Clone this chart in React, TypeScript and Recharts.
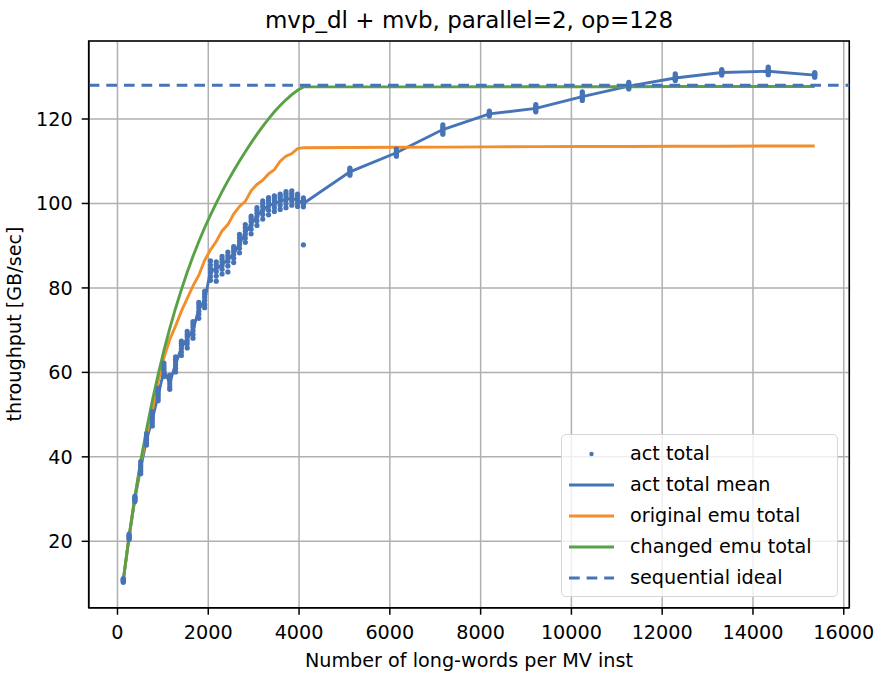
import React from "react";
import {
  CartesianGrid,
  ComposedChart,
  Line,
  ReferenceArea,
  ReferenceLine,
  Scatter,
  XAxis,
  YAxis,
} from "recharts";

// long-words per MV inst
const xs = [
  128, 256, 384, 512, 640, 768, 896, 1024, 1152, 1280, 1408, 1536, 1664, 1792, 1920, 2048,
  2176, 2304, 2432, 2560, 2688, 2816, 2944, 3072, 3200, 3328, 3456, 3584, 3712, 3840, 3968, 4096,
  5120, 6144, 7168, 8192, 9216, 10240, 11264, 12288, 13312, 14336, 15360,
];

// raw measurements, several runs per size
const actSamples = [
  [10.3, 10.5, 10.7, 10.9, 11.0, 11.2],
  [20.4, 20.7, 21.0, 21.2, 21.4, 21.7],
  [29.4, 29.7, 30.0, 30.2, 30.4, 30.7],
  [36.0, 36.6, 37.2, 37.8, 38.3, 38.9],
  [42.8, 43.4, 44.0, 44.5, 45.0, 45.5],
  [47.3, 48.0, 48.7, 49.4, 50.0, 50.7],
  [53.3, 53.9, 54.5, 55.0, 55.6, 56.2],
  [59.0, 59.7, 60.4, 61.0, 61.6, 62.2],
  [56.0, 56.6, 57.3, 58.0, 58.6, 59.3],
  [60.1, 61.0, 61.8, 62.5, 63.1, 63.7],
  [64.0, 64.8, 65.6, 66.3, 66.9, 67.4],
  [65.8, 66.8, 67.6, 68.4, 69.0, 69.7],
  [68.1, 69.0, 69.9, 70.7, 71.4, 72.0],
  [72.8, 73.7, 74.5, 75.3, 76.0, 76.6],
  [75.3, 76.1, 77.0, 77.8, 78.5, 79.2],
  [81.8, 82.7, 83.6, 84.5, 85.4, 86.4],
  [81.6, 82.8, 83.9, 84.8, 85.5, 86.2],
  [83.3, 84.4, 85.3, 86.1, 86.8, 87.5],
  [83.8, 85.2, 86.3, 87.1, 87.8, 88.5],
  [86.0, 87.0, 87.9, 88.6, 89.2, 89.8],
  [88.3, 89.4, 90.3, 91.1, 91.9, 92.7],
  [90.8, 91.8, 92.7, 93.5, 94.3, 95.0],
  [92.8, 93.9, 94.9, 95.7, 96.4, 97.0],
  [94.8, 95.9, 96.9, 97.7, 98.4, 99.0],
  [96.3, 97.4, 98.4, 99.2, 99.9, 100.6],
  [97.3, 98.4, 99.4, 100.2, 100.8, 101.4],
  [98.1, 99.0, 99.9, 100.7, 101.3, 101.8],
  [98.6, 99.6, 100.5, 101.2, 101.7, 102.2],
  [99.0, 100.0, 100.9, 101.6, 102.2, 102.8],
  [99.6, 100.5, 101.2, 101.8, 102.4, 103.0],
  [99.3, 100.0, 100.7, 101.2, 101.7, 102.2],
  [90.2, 99.2, 99.8, 100.3, 100.8, 101.3],
  [106.7, 107.0, 107.4, 107.7, 108.0, 108.4],
  [111.2, 111.5, 111.9, 112.2, 112.5, 112.9],
  [116.4, 116.8, 117.3, 117.7, 118.1, 118.6],
  [120.7, 121.0, 121.2, 121.4, 121.6, 121.9],
  [121.7, 122.0, 122.4, 122.7, 123.0, 123.4],
  [124.4, 124.8, 125.2, 125.6, 126.0, 126.4],
  [127.1, 127.4, 127.7, 128.0, 128.3, 128.7],
  [129.1, 129.4, 129.7, 130.0, 130.3, 130.7],
  [130.4, 130.7, 131.0, 131.2, 131.4, 131.7],
  [130.5, 130.9, 131.3, 131.6, 131.9, 132.3],
  [129.9, 130.2, 130.4, 130.6, 130.8, 131.0],
];

const actMean = [
  10.8, 21.0, 30.0, 37.5, 44.0, 49.0, 54.5, 60.5, 57.5, 62.0, 65.8, 68.0, 70.0, 75.0, 77.0, 84.0,
  84.5, 85.5, 86.7, 88.0, 90.5, 93.0, 95.0, 97.0, 98.5, 99.5, 100.0, 100.5, 101.0, 101.2, 100.8, 100.0,
  107.5, 112.0, 117.5, 121.2, 122.5, 125.3, 127.8, 129.7, 131.0, 131.3, 130.4,
];

const origEmu = [
  10.8, 21.3, 30.5, 38.5, 45.0, 51.0, 57.8, 63.5, 67.8, 71.0, 74.5, 77.5, 80.5, 83.0, 86.5, 89.0,
  91.0, 93.5, 95.0, 97.5, 99.3, 100.5, 103.0, 104.5, 105.5, 107.0, 108.0, 110.0, 111.2, 111.8, 113.0, 113.2,
  113.25, 113.3, 113.35, 113.4, 113.45, 113.5, 113.5, 113.55, 113.55, 113.6, 113.6,
];

const changedEmu = [
  10.8, 21.2, 30.6, 39.0, 46.5, 53.3, 59.5, 65.2, 70.4, 75.2, 79.6, 83.7, 87.5, 91.0, 94.25, 97.25,
  100.1, 102.8, 105.35, 107.75, 110.05, 112.25, 114.35, 116.35, 118.25, 120.05, 121.7, 123.2, 124.55, 125.75, 126.8, 127.6,
  127.6, 127.6, 127.6, 127.65, 127.65, 127.65, 127.65, 127.7, 127.7, 127.7, 127.7,
];

const SEQUENTIAL_IDEAL = 128;

const X_TICKS = [0, 2000, 4000, 6000, 8000, 10000, 12000, 14000, 16000];
const Y_TICKS = [20, 40, 60, 80, 100, 120];
const X_DOMAIN: [number, number] = [-634, 16122];
const Y_DOMAIN: [number, number] = [4.28, 138.47];

const BLUE = "#4674b6";
const ORANGE = "#f28e2b";
const GREEN = "#59a145";
const FONT = "'DejaVu Sans', sans-serif";

const lineData = xs.map((x, i) => ({ x, mean: actMean[i], orig: origEmu[i], chg: changedEmu[i] }));
const scatterData = xs.flatMap((x, i) => actSamples[i].map((v) => ({ x, act: v })));

const legendItems = [
  { label: "act total", kind: "dot", color: BLUE },
  { label: "act total mean", kind: "line", color: BLUE },
  { label: "original emu total", kind: "line", color: ORANGE },
  { label: "changed emu total", kind: "line", color: GREEN },
  { label: "sequential ideal", kind: "dash", color: BLUE },
];

function LegendBox() {
  return (
    <div
      style={{
        position: "absolute",
        left: 561,
        top: 434,
        width: 277,
        height: 163,
        boxSizing: "border-box",
        border: "1.5px solid #d6d6d6",
        borderRadius: 5,
        background: "rgba(255,255,255,0.8)",
      }}
    >
      {legendItems.map((it, i) => (
        <div
          key={it.label}
          style={{
            position: "absolute",
            left: 0,
            top: 19 + i * 31 - 12,
            height: 24,
            display: "flex",
            alignItems: "center",
          }}
        >
          <svg width={68} height={24} style={{ display: "block" }}>
            {it.kind === "dot" ? (
              <circle cx={29.5} cy={12} r={2.2} fill={it.color} />
            ) : (
              <line
                x1={7}
                x2={52}
                y1={12}
                y2={12}
                stroke={it.color}
                strokeWidth={2.9}
                strokeDasharray={it.kind === "dash" ? "10.7 6.9" : undefined}
              />
            )}
          </svg>
          <span style={{ fontSize: 19.2, lineHeight: "19.2px", whiteSpace: "nowrap" }}>{it.label}</span>
        </div>
      ))}
    </div>
  );
}

export default function App() {
  const tickStyle = { fontSize: 19.2, fill: "#000", fontFamily: FONT };
  return (
    <div style={{ position: "absolute", left: 0, top: 0, width: 885, height: 678, fontFamily: FONT, color: "#000", background: "#fff" }}>
      <ComposedChart
        width={885}
        height={678}
        data={lineData}
        margin={{ top: 41, right: 35.7, left: 0, bottom: 30.3 }}
      >
        <CartesianGrid stroke="#b0b0b0" strokeWidth={1.5} />
        <XAxis
          type="number"
          dataKey="x"
          domain={X_DOMAIN}
          allowDataOverflow
          ticks={X_TICKS}
          height={40}
          tickSize={7}
          tickMargin={10.5}
          tick={tickStyle}
          axisLine={{ stroke: "#000", strokeWidth: 1.5 }}
          tickLine={{ stroke: "#000", strokeWidth: 1.5 }}
        />
        <YAxis
          type="number"
          domain={Y_DOMAIN}
          allowDataOverflow
          ticks={Y_TICKS}
          width={88.7}
          tickSize={7}
          tickMargin={9}
          tick={tickStyle}
          axisLine={{ stroke: "#000", strokeWidth: 1.5 }}
          tickLine={{ stroke: "#000", strokeWidth: 1.5 }}
        />
        <Scatter
          data={scatterData}
          dataKey="act"
          isAnimationActive={false}
          shape={(p: any) => <circle cx={p.cx} cy={p.cy} r={2.6} fill={BLUE} />}
        />
        <Line dataKey="mean" stroke={BLUE} strokeWidth={2.9} dot={false} activeDot={false} isAnimationActive={false} />
        <Line dataKey="orig" stroke={ORANGE} strokeWidth={2.9} dot={false} activeDot={false} isAnimationActive={false} />
        <Line dataKey="chg" stroke={GREEN} strokeWidth={2.9} dot={false} activeDot={false} isAnimationActive={false} />
        <ReferenceLine y={SEQUENTIAL_IDEAL} stroke={BLUE} strokeWidth={2.9} strokeDasharray="10.7 6.9" />
        <ReferenceArea
          x1={X_DOMAIN[0]}
          x2={X_DOMAIN[1]}
          y1={Y_DOMAIN[0]}
          y2={Y_DOMAIN[1]}
          fill="none"
          stroke="#000"
          strokeWidth={1.5}
          ifOverflow="visible"
        />
      </ComposedChart>

      <div style={{ position: "absolute", left: 88.7, width: 760.6, top: 9.1, textAlign: "center", fontSize: 23, lineHeight: "23px", whiteSpace: "nowrap" }}>
        mvp_dl + mvb, parallel=2, op=128
      </div>
      <div style={{ position: "absolute", left: 88.7, width: 760.6, top: 650.8, textAlign: "center", fontSize: 19.2, lineHeight: "19.2px", whiteSpace: "nowrap" }}>
        Number of long-words per MV inst
      </div>
      <div
        style={{
          position: "absolute",
          left: 15,
          top: 324.4,
          transform: "translate(-50%, -50%) rotate(-90deg)",
          fontSize: 19.2,
          lineHeight: "19.2px",
          whiteSpace: "nowrap",
        }}
      >
        throughput [GB/sec]
      </div>
      <LegendBox />
    </div>
  );
}
